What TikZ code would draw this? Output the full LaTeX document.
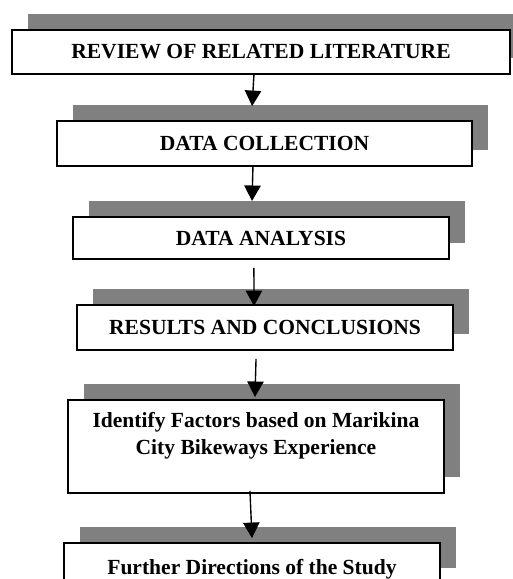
\documentclass[tikz,border=0pt]{standalone}
\usepackage{fontspec}
\setmainfont{Liberation Serif}
\usepackage{tikz}
\usetikzlibrary{arrows.meta, shadows}

\begin{document}
\begin{tikzpicture}[x=0.58pt, y=-0.58pt]
      \tikzset{stagebox/.style = {draw, line width=1.1pt, fill=white, inner sep=0pt,
          font=\fontsize{12.5}{15.5}\selectfont\bfseries, align=center,
          drop shadow={shadow xshift=9.3pt, shadow yshift=9.3pt, fill=gray, opacity=1}}}
      \tikzset{flow/.style = {line width=0.8pt, -{Triangle[width=9.5pt, length=9pt]}}}
      \clip (0,0) rectangle (513,579);
      \useasboundingbox (0,0) rectangle (513,579);
      \node[stagebox, minimum width=288.8pt, minimum height=25.5pt] (review) at (261,52) {REVIEW OF RELATED LITERATURE};
      \node[stagebox, minimum width=240.7pt, minimum height=26.1pt] (collect) at (264.5,143.5) {DATA COLLECTION};
      \node[stagebox, minimum width=218.1pt, minimum height=24.4pt] (analysis) at (261,238) {DATA ANALYSIS};
      \node[stagebox, minimum width=218.1pt, minimum height=26.1pt] (results) at (265,327.5) {RESULTS AND CONCLUSIONS};
      \node[stagebox, minimum width=218.1pt, minimum height=53.9pt] (factors) at (256,446.5) {Identify Factors based on Marikina\\City Bikeways Experience\\~};
      \node[stagebox, minimum width=218.1pt, minimum height=23.8pt, text height=15pt, text depth=2.8pt] (further) at (252,563.5) {Further Directions of the Study};
      \draw[flow] ([xshift=-4.1pt]review.south) -- ([xshift=-7.2pt, yshift=8.1pt]collect.north);
      \draw[flow] ([xshift=-6.7pt]collect.south) -- ([xshift=-5.2pt, yshift=8.7pt]analysis.north);
      \draw[flow] ([xshift=-4.1pt, yshift=-4.6pt]analysis.south) -- ([xshift=-6.4pt, yshift=-1.2pt]results.north);
      \draw[flow] ([xshift=-5.2pt, yshift=-4.6pt]results.south) -- ([xshift=-0.6pt, yshift=1.2pt]factors.north);
      \draw[flow] ([xshift=-3.5pt, yshift=1.7pt]factors.south) -- ([yshift=2.3pt]further.north);
\end{tikzpicture}
\end{document}
